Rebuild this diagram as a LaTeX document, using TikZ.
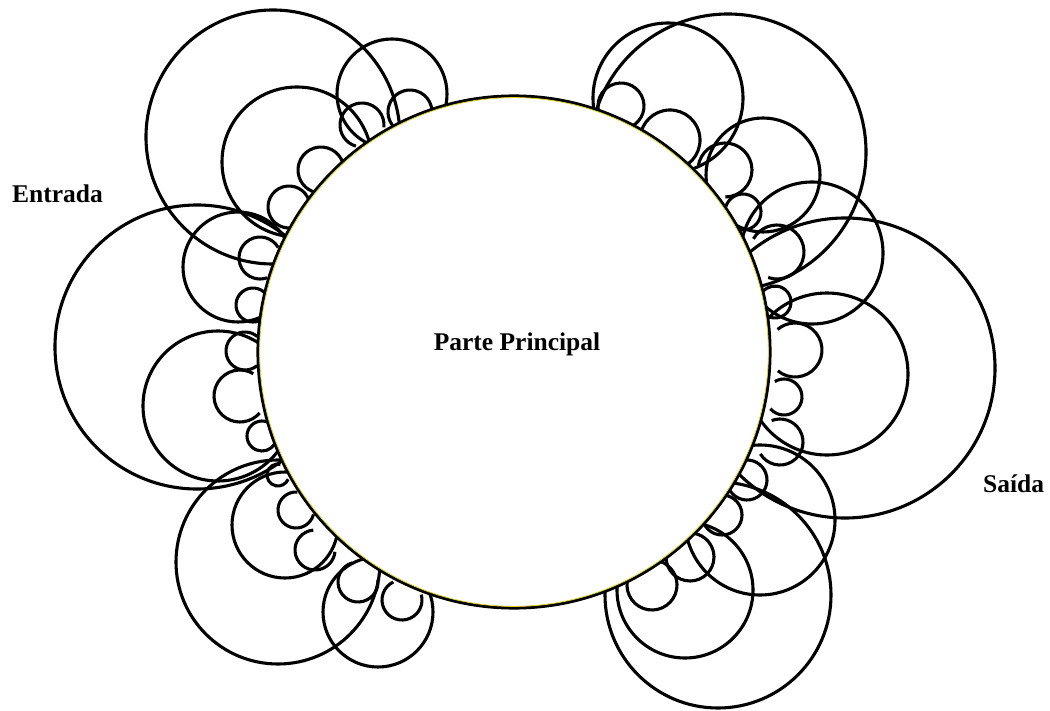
\documentclass[tikz,border=0pt]{standalone}
\usepackage{fontspec}
\setmainfont{Liberation Serif}
\begin{document}
\begin{tikzpicture}[x=1bp,y=-1bp,font=\fontsize{25.5bp}{30bp}\selectfont\bfseries]
\tikzstyle{ring}=[draw=black,line width=3.1bp]
\tikzstyle{lbl}=[inner sep=0pt]
\useasboundingbox (0,0) rectangle (1050,711);
\coordinate (main) at (514,352);
% big rings, upper left / left / lower left
\foreach \x/\y/\r in {273/137/127,392/94/55,297/162/75,197/347/142,238/267/55,218/406/75,278/562/102,285/525/53,378/612/55} \draw[ring] (\x,\y) circle[radius=\r bp];
% big rings, upper right / right / lower right
\foreach \x/\y/\r in {728/152/138,668/98/75,763/175/57,812/253/71,845/368/150,827/374/81,760/520/75,685/590/68,718/595/113} \draw[ring] (\x,\y) circle[radius=\r bp];
% small scallops, open towards the main part
\foreach \x/\y/\r in {362/125/22,410/112/22,321/170/23,289/207/21,260/258/21,253/305/17,245/351/19,240/396/26,262/436/15,278/475/11,296/510/18,315/550/20,358/582/20,402/600/20,621/106/23,670/140/30,725/170/27,743/212/18,777/252/27,775/302/16,795/350/27,784/397/18,780/442/23,747/480/20,722/515/20,690/557/24,652/585/25} {
  \pgfmathsetmacro\a{atan2(\y-352,514-\x)}
  \draw[ring] (\x,\y) ++(\a+50:\r bp) arc[start angle=\a+50,end angle=\a+310,radius=\r bp];
}
% main part
\fill[white] (main) circle[radius=256bp];
\draw[ring] (main) circle[radius=256bp];
\draw[yellow!85!black,line width=0.8bp] (main) circle[radius=254.4bp];
\node[lbl,anchor=base] (parte) at (517,350) {Parte Principal};
\node[lbl,anchor=base west] (entrada) at (12,203) {Entrada};
\node[lbl,anchor=base west] (saida) at (983,492) {Saída};
\end{tikzpicture}
\end{document}
